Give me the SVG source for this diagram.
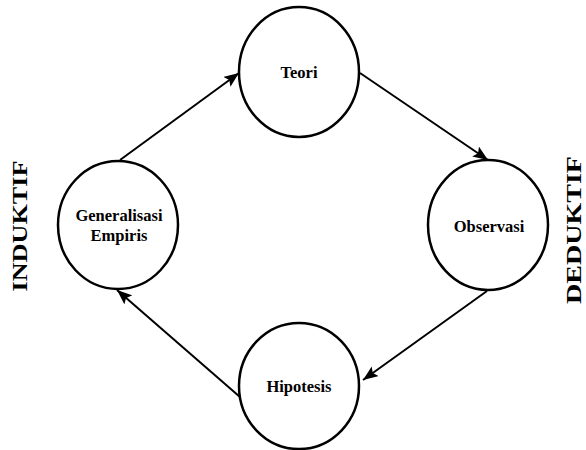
<svg xmlns="http://www.w3.org/2000/svg" width="586" height="450" viewBox="0 0 586 450">
<defs>
<style>
.node ellipse{fill:#fff;stroke:#000;stroke-width:2.5}
.lbl{font-family:"Liberation Serif","Times New Roman",serif;font-weight:bold;font-size:16.5px;fill:#000;text-anchor:middle}
.side{font-family:"Liberation Serif","Times New Roman",serif;font-weight:bold;font-size:22px;fill:#000;text-anchor:middle}
.conn line{stroke:#000;stroke-width:2;marker-end:url(#ah)}
</style>
<marker id="ah" markerUnits="userSpaceOnUse" markerWidth="16" markerHeight="12" refX="15" refY="6" orient="auto">
<path d="M0,0 L15,6 L0,12 L3,6 Z" fill="#000"/>
</marker>
</defs>
<rect width="586" height="450" fill="#fff"/>
<g id="connectors" class="conn">
<line x1="120" y1="160" x2="239" y2="73"/>
<line x1="360" y1="73" x2="488" y2="160"/>
<line x1="487" y1="291" x2="363" y2="380"/>
<line x1="240" y1="397" x2="117" y2="290"/>
</g>
<g id="teori" class="node">
<ellipse cx="299" cy="72" rx="60" ry="65"/>
<text class="lbl" x="299" y="78">Teori</text>
</g>
<g id="observasi" class="node">
<ellipse cx="488" cy="225" rx="60" ry="65"/>
<text class="lbl" x="489" y="232">Observasi</text>
</g>
<g id="hipotesis" class="node">
<ellipse cx="299" cy="386" rx="60" ry="63"/>
<text class="lbl" x="299" y="392">Hipotesis</text>
</g>
<g id="generalisasi" class="node">
<ellipse cx="118" cy="225" rx="60" ry="64"/>
<text class="lbl" x="119" y="221">Generalisasi</text>
<text class="lbl" x="119" y="241">Empiris</text>
</g>
<text class="side" transform="translate(27,226) rotate(-90)" textLength="131" lengthAdjust="spacingAndGlyphs">INDUKTIF</text>
<text class="side" transform="translate(580.5,230) rotate(-90)" textLength="148" lengthAdjust="spacingAndGlyphs">DEDUKTIF</text>
</svg>
